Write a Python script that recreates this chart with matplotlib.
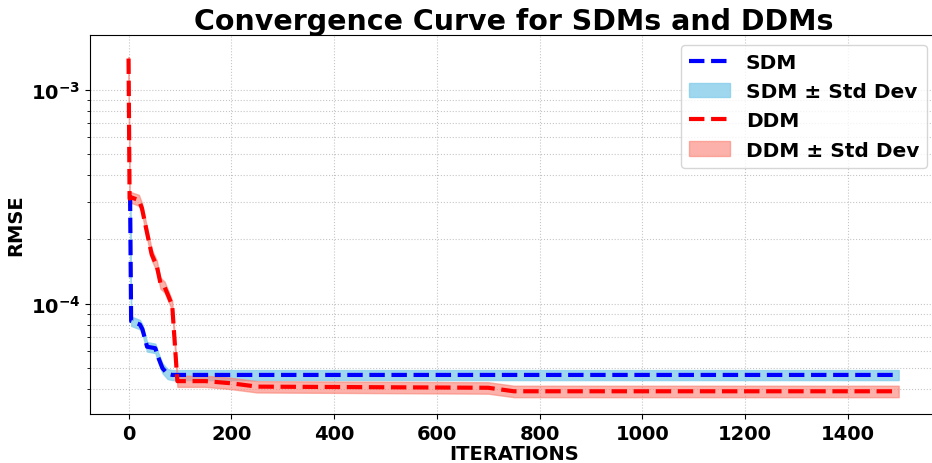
import numpy as np
import matplotlib
matplotlib.use('Agg')
import matplotlib.pyplot as plt

# convergence keypoints (iteration, mean RMSE, std) for both models
sdm_iter = [0, 3, 5, 22, 27, 36, 52, 58, 66, 76, 85, 1499]
sdm_rmse = [3.15e-4, 3.15e-4, 8.3e-5, 8.0e-5, 7.6e-5, 6.3e-5, 6.2e-5, 5.6e-5, 5.0e-5, 4.7e-5, 4.65e-5, 4.65e-5]
sdm_std = [1.4e-5, 1.4e-5, 4.2e-6, 4.0e-6, 3.8e-6, 3.2e-6, 3.1e-6, 2.9e-6, 2.6e-6, 2.5e-6, 2.5e-6, 2.5e-6]

ddm_iter = [0, 2, 4, 20, 26, 35, 45, 55, 62, 70, 78, 85, 95, 150, 200, 250, 700, 750, 1499]
ddm_rmse = [1.4e-3, 3.1e-4, 3.15e-4, 3.05e-4, 2.8e-4, 2.2e-4, 1.7e-4, 1.5e-4, 1.25e-4, 1.2e-4, 1.08e-4,
            9.8e-5, 4.35e-5, 4.35e-5, 4.25e-5, 4.1e-5, 4.05e-5, 3.9e-5, 3.9e-5]
ddm_std = [2.5e-5, 1.8e-5, 1.8e-5, 1.8e-5, 1.6e-5, 1.3e-5, 1.0e-5, 9e-6, 7.5e-6, 7e-6, 6e-6,
           5e-6, 2.6e-6, 2.6e-6, 2.6e-6, 2.5e-6, 2.5e-6, 2.4e-6, 2.4e-6]

fig = plt.figure(figsize=(9.32, 4.64), dpi=100)
ax = fig.add_axes([0.0966, 0.106, 0.909, 0.816])

s_m = np.array(sdm_rmse)
s_s = np.array(sdm_std)
d_m = np.array(ddm_rmse)
d_s = np.array(ddm_std)

ax.plot(sdm_iter, s_m, '--', color='blue', lw=3, label='SDM', zorder=3)
ax.fill_between(sdm_iter, s_m - s_s, s_m + s_s, color='#87CEEB', alpha=0.8,
                label='SDM ± Std Dev', zorder=2)
ax.plot(ddm_iter, d_m, '--', color='red', lw=3, label='DDM', zorder=3)
ax.fill_between(ddm_iter, d_m - d_s, d_m + d_s, color='#FA8072', alpha=0.6,
                label='DDM ± Std Dev', zorder=2)

ax.set_yscale('log')
ax.set_ylim(3.06e-5, 1.8e-3)
ax.set_xlim(-75, 1574)
ax.set_xticks(range(0, 1401, 200))

ax.set_title('Convergence Curve for SDMs and DDMs', fontsize=20.5, fontweight='bold', pad=3)
ax.set_xlabel('ITERATIONS', fontsize=14, fontweight='bold', labelpad=1)
ax.set_ylabel('RMSE', fontsize=14, fontweight='bold')
for lbl in ax.get_xticklabels() + ax.get_yticklabels():
    lbl.set_fontweight('bold')
ax.tick_params(axis='both', which='major', labelsize=14)

ax.grid(True, which='both', linestyle=':', color='gray', alpha=0.45)
ax.legend(loc='upper right', prop={'weight': 'bold', 'size': 14.5})

fig.savefig('out.png', dpi=100)
